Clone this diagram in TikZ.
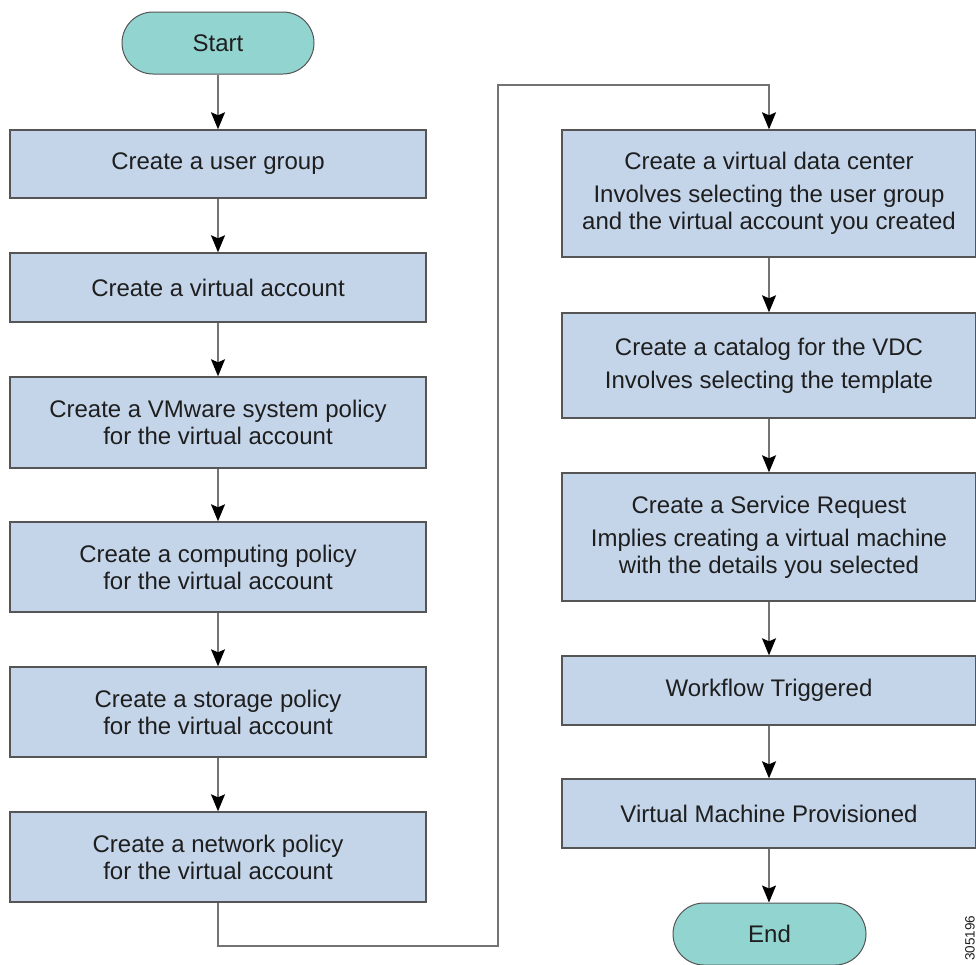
\documentclass[tikz,border=0pt]{standalone}
\usepackage{fontspec}
\setmainfont{Liberation Sans}
\usetikzlibrary{arrows.meta}
\definecolor{boxfill}{RGB}{196,213,234}
\definecolor{termfill}{RGB}{146,212,208}
\definecolor{edgegray}{RGB}{85,85,85}
\definecolor{linegray}{RGB}{115,115,115}
\definecolor{txt}{RGB}{30,30,30}
\begin{document}
\begin{tikzpicture}[x=1pt,y=-1pt,
  stepbox/.style={draw=edgegray, line width=1.4pt, fill=boxfill, align=center, inner sep=0pt,
    font=\fontsize{24}{27}\selectfont, text=txt},
  leftbox/.style={stepbox, minimum width=416pt},
  rightbox/.style={stepbox, minimum width=414pt},
  term/.style={draw=edgegray, line width=1pt, fill=termfill, rounded corners=31pt,
    minimum width=192pt, minimum height=62pt, inner sep=0pt,
    font=\fontsize{24}{27}\selectfont, text=txt},
  flow/.style={draw=linegray, line width=1.5pt,
    -{Stealth[length=17pt,width=14pt,inset=3pt,color=black]}}
]
\useasboundingbox (0,0) rectangle (976,964);

\node[term] (start) at (218,43) {Start};
\node[leftbox, minimum height=68pt] (l1) at (218,164) {Create a user group};
\node[leftbox, minimum height=69pt] (l2) at (218,287.5) {Create a virtual account};
\node[leftbox, minimum height=91pt] (l3) at (218,422.5) {Create a VMware system policy\\for the virtual account};
\node[leftbox, minimum height=90pt] (l4) at (218,567) {Create a computing policy\\for the virtual account};
\node[leftbox, minimum height=90pt] (l5) at (218,712) {Create a storage policy\\for the virtual account};
\node[leftbox, minimum height=90pt] (l6) at (218,857) {Create a network policy\\for the virtual account};

\node[rightbox, minimum height=127pt] (r1) at (769,193.5) {Create a virtual data center\\[6pt]Involves selecting the user group\\and the virtual account you created};
\node[rightbox, minimum height=105pt] (r2) at (769,365.5) {Create a catalog for the VDC\\[6pt]Involves selecting the template};
\node[rightbox, minimum height=128pt] (r3) at (769,537) {Create a Service Request\\[6pt]Implies creating a virtual machine\\with the details you selected};
\node[rightbox, minimum height=69pt] (r4) at (769,690.5) {Workflow Triggered};
\node[rightbox, minimum height=69pt] (r5) at (769,813.5) {Virtual Machine Provisioned};
\node[term, minimum width=193pt] (end) at (769.5,934) {End};

\node[rotate=90, font=\fontsize{13.5}{13.5}\selectfont, text=txt] (num) at (970,938) {305196};

\draw[flow] (start) -- (l1);
\draw[flow] (l1) -- (l2);
\draw[flow] (l2) -- (l3);
\draw[flow] (l3) -- (l4);
\draw[flow] (l4) -- (l5);
\draw[flow] (l5) -- (l6);

\coordinate (k1) at (218,946);
\coordinate (k2) at (498,946);
\coordinate (k3) at (498,85);
\coordinate (k4) at (769,85);
\draw[flow] (l6.south) -- (k1) -- (k2) -- (k3) -- (k4) -- (r1.north);

\draw[flow] (r1) -- (r2);
\draw[flow] (r2) -- (r3);
\draw[flow] (r3) -- (r4);
\draw[flow] (r4) -- (r5);
\draw[flow] (r5.south) -- (end.north -| r5.south);
\end{tikzpicture}
\end{document}
